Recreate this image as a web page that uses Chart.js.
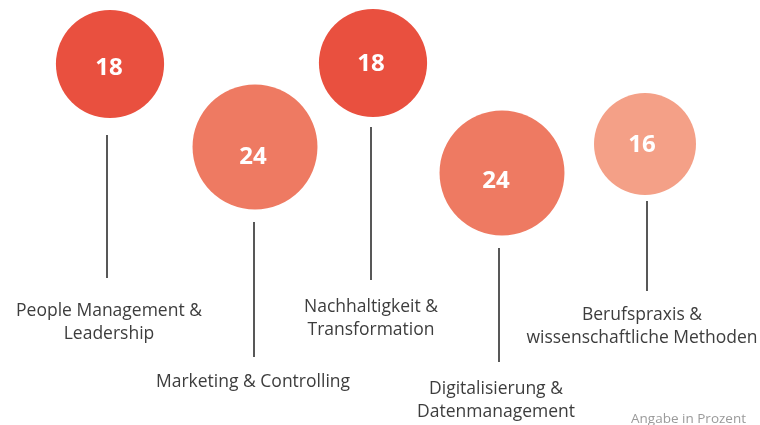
<!DOCTYPE html>
<html lang="de">
<head>
    <meta charset="UTF-8">
    <title>Module</title>
    <script src="https://cdn.jsdelivr.net/npm/chart.js"></script>
    <style>
        html, body { margin: 0; padding: 0; background: #fff; }
        #wrap { width: 760px; height: 425px; position: relative; }
    </style>
</head>
<body>
    <div id="wrap"><canvas id="myChart"></canvas></div>

    <script>
        // Daten
        const categories = [
            ['People Management &', 'Leadership'],
            ['Marketing & Controlling'],
            ['Nachhaltigkeit &', 'Transformation'],
            ['Digitalisierung &', 'Datenmanagement'],
            ['Berufspraxis &', 'wissenschaftliche Methoden']
        ];
        const values = [18, 24, 18, 24, 16];
        const note = 'Angabe in Prozent';

        // Layout (in Achseneinheiten, 0..760 / 0..425)
        const bubbleX = [110, 255, 373, 502, 645];
        const bubbleY = [64, 147, 63, 173, 144];
        const stemX = [107, 254, 371, 499, 647];
        const stemTop = [135, 222, 127, 248, 201];
        const stemBottom = [278, 357, 280, 362, 291];
        const labelX = [109, 253, 371, 496, 642];
        const labelY = [311, 382, 307, 389, 315];
        const valueY = [68, 157, 64, 181, 145];

        const colors = ['#E9503F', '#EE7A62', '#E9503F', '#EE7A62', '#F4A087'];
        const font = "'Open Sans', sans-serif";

        const stems = stemX.map((x, i) => ({
            type: 'line',
            data: [{ x: x, y: stemTop[i] }, { x: x, y: stemBottom[i] }],
            borderColor: '#222',
            borderWidth: 1.5,
            pointRadius: 0,
            order: 2
        }));

        const textPlugin = {
            id: 'texts',
            afterDatasetsDraw(chart) {
                const { ctx, scales: { x, y } } = chart;
                ctx.save();
                ctx.textAlign = 'center';
                ctx.textBaseline = 'middle';
                // Werte in den Kreisen
                ctx.fillStyle = '#fff';
                ctx.font = "bold 24px " + font;
                values.forEach((v, i) => {
                    ctx.fillText(String(v), x.getPixelForValue(labelX[i]), y.getPixelForValue(valueY[i]));
                });
                // Beschriftungen
                ctx.fillStyle = '#3d3d3d';
                ctx.font = "17.5px " + font;
                categories.forEach((lines, i) => {
                    lines.forEach((t, j) => {
                        ctx.fillText(t, x.getPixelForValue(labelX[i]), y.getPixelForValue(labelY[i] + j * 23.5));
                    });
                });
                ctx.textAlign = 'right';
                ctx.fillStyle = '#9a9a9a';
                ctx.font = "13.5px " + font;
                ctx.fillText(note, x.getPixelForValue(746), y.getPixelForValue(419));
                ctx.restore();
            }
        };

        const ctx = document.getElementById('myChart').getContext('2d');
        const myChart = new Chart(ctx, {
            type: 'bubble',
            data: {
                datasets: [{
                    data: values.map((v, i) => ({ x: bubbleX[i], y: bubbleY[i], v: v })),
                    backgroundColor: colors,
                    borderWidth: 0,
                    hoverBorderWidth: 0,
                    radius: c => 12.75 * Math.sqrt(values[c.dataIndex]),
                    clip: false,
                    order: 1
                }].concat(stems)
            },
            options: {
                responsive: true,
                maintainAspectRatio: false,
                animation: false,
                layout: { padding: 0, autoPadding: false },
                plugins: { legend: { display: false }, tooltip: { enabled: false } },
                scales: {
                    x: { type: 'linear', display: false, min: 0, max: 760 },
                    y: { type: 'linear', display: false, min: 0, max: 425, reverse: true }
                }
            },
            plugins: [textPlugin]
        });
    </script>
</body>
</html>
